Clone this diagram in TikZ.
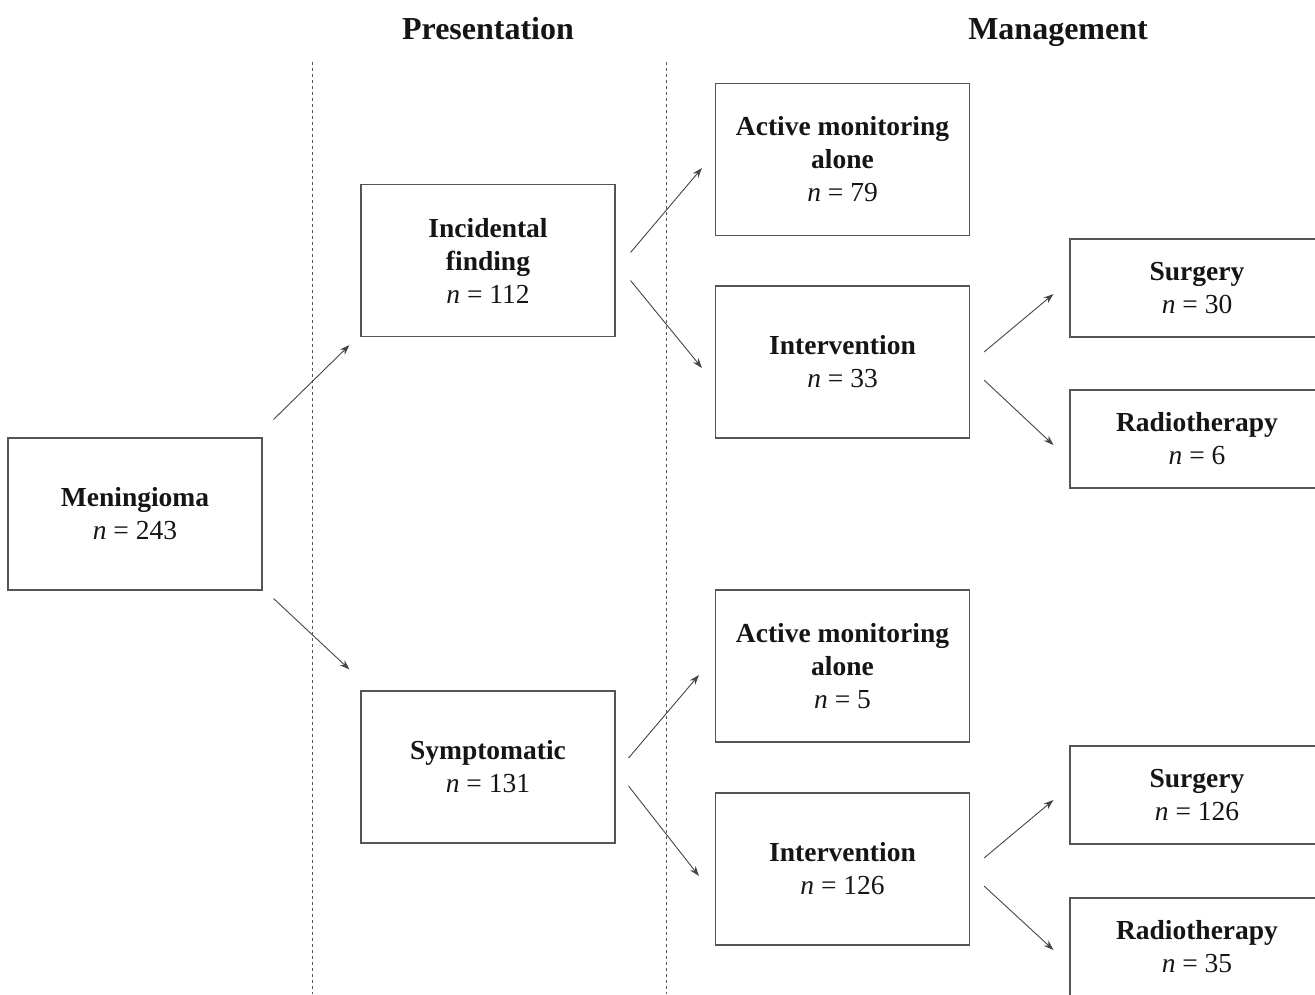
\documentclass[tikz,border=0pt]{standalone}
\usepackage{fontspec}
\setmainfont{Liberation Serif}
\usetikzlibrary{calc,arrows.meta}
\definecolor{boxline}{HTML}{555555}
\definecolor{arrline}{HTML}{454545}
\definecolor{txt}{HTML}{151515}
\tikzset{
  box/.style={draw=boxline, line width=1.1pt, minimum width=254pt, minimum height=152pt,
    align=center, inner sep=0pt, text=txt, font=\fontsize{27.5}{33}\selectfont},
  smallbox/.style={box, minimum height=98pt},
  arr/.style={draw=arrline, line width=0.9pt, -{Stealth[length=10pt,width=7pt]}},
  divider/.style={draw=boxline, line width=0.8pt, dash pattern=on 3pt off 3pt},
  heading/.style={text=txt, font=\fontsize{32}{36}\selectfont\bfseries, inner sep=0pt, anchor=base}
}
\newcommand{\nval}[1]{\textit{n} = #1}
\begin{document}
\begin{tikzpicture}[x=1pt,y=-1pt]
\useasboundingbox (0,0) rectangle (1315,994);
% dividers
\coordinate (d1t) at (312,62);
\coordinate (d1b) at (312,994);
\coordinate (d2t) at (666,62);
\coordinate (d2b) at (666,994);
\draw[divider] (d1t) -- (d1b);
\draw[divider] (d2t) -- (d2b);
% headings
\node[heading] (hp) at (488,39) {Presentation};
\node[heading] (hm) at (1058,39) {Management};
% boxes
\node[box] (men) at (135,514) {\textbf{Meningioma}\\\nval{243}};
\node[box] (inc) at (488,260.5) {\textbf{Incidental}\\\textbf{finding}\\\nval{112}};
\node[box] (sym) at (488,767) {\textbf{Symptomatic}\\\nval{131}};
\node[box] (amt) at (842.5,159.5) {\textbf{Active monitoring}\\\textbf{alone}\\\nval{79}};
\node[box] (ivt) at (842.5,362) {\textbf{Intervention}\\\nval{33}};
\node[box] (amb) at (842.5,666) {\textbf{Active monitoring}\\\textbf{alone}\\\nval{5}};
\node[box] (ivb) at (842.5,869) {\textbf{Intervention}\\\nval{126}};
\node[smallbox] (sgt) at (1197,288) {\textbf{Surgery}\\\nval{30}};
\node[smallbox] (rdt) at (1197,439) {\textbf{Radiotherapy}\\\nval{6}};
\node[smallbox] (sgb) at (1197,795) {\textbf{Surgery}\\\nval{126}};
\node[smallbox] (rdb) at (1197,947) {\textbf{Radiotherapy}\\\nval{35}};
% arrows
\draw[arr] ($(men.north east)+(11,-18)$) -- ($(inc.south west)+(-11,8)$);
\draw[arr] ($(men.south east)+(11,8)$) -- ($(sym.north west)+(-11,-21)$);
\draw[arr] ($(inc.east)+(15,-8)$) -- ($(amt.west)+(-13,8.5)$);
\draw[arr] ($(inc.east)+(15,20)$) -- ($(ivt.west)+(-13,6)$);
\draw[arr] ($(ivt.east)+(14,-10)$) -- ($(sgt.west)+(-16,6)$);
\draw[arr] ($(ivt.east)+(14,18)$) -- ($(rdt.west)+(-16,6)$);
\draw[arr] ($(sym.east)+(13,-9)$) -- ($(amb.west)+(-16,9)$);
\draw[arr] ($(sym.east)+(13,19)$) -- ($(ivb.west)+(-16,7)$);
\draw[arr] ($(ivb.east)+(14,-11)$) -- ($(sgb.west)+(-16,5)$);
\draw[arr] ($(ivb.east)+(14,17)$) -- ($(rdb.west)+(-16,3)$);
\end{tikzpicture}
\end{document}
